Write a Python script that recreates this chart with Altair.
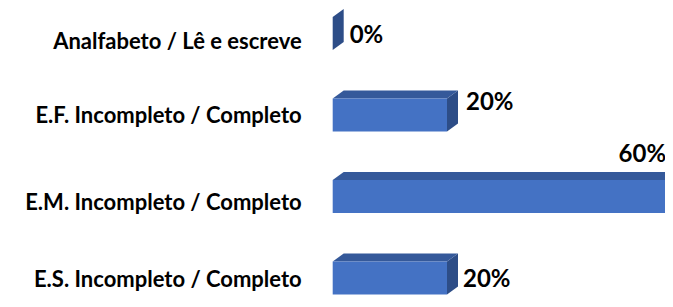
import altair as alt
import pandas as pd

# ---- data ----
categories = [
    "Analfabeto / Lê e escreve",
    "E.F. Incompleto / Completo",
    "E.M. Incompleto / Completo",
    "E.S. Incompleto / Completo",
]
values = [0, 20, 60, 20]
value_labels = ["0%", "20%", "60%", "20%"]

# ---- layout / style constants (pixels) ----
W, H = 657, 287
X0_PX = 324.7          # pixel of 0 %
PX_PER_PCT = 5.715     # pixels per percentage point
Y0_PX = 25.5           # pixel centre of first row
PX_PER_ROW = 81.5
FRONT_HALF_PX = 16.5
DEPTH_X_PX = 11
DEPTH_Y_PX = 8
VAL_DX_PX = [17, 19, -57, 16]
VAL_DY_PX = [2, -12, -42, 1.5]
CAT_DY_PX = [15.5, 7.5, 13.5, 9]
CAT_RIGHT_GAP_PX = 31

FRONT = "#4472C4"
TOP = "#35599A"
SIDE = "#2D4D87"

px_x = lambda p: p / PX_PER_PCT
px_y = lambda p: p / PX_PER_ROW

h = px_y(FRONT_HALF_PX)
dxu = px_x(DEPTH_X_PX)
dyu = px_y(DEPTH_Y_PX)

front_rows, top_rows, side_rows, val_rows, cat_rows = [], [], [], [], []
for i, (c, v, lab) in enumerate(zip(categories, values, value_labels)):
    front_rows.append(dict(cat=c, x=0, x2=v, y=i - h, y2=i + h))
    if v > dxu:
        for xx, yy, yy2 in [
            (0, i - h, i - h),
            (dxu, i - h, i - h - dyu),
            (v, i - h, i - h - dyu),
            (v + dxu, i - h - dyu, i - h - dyu),
        ]:
            top_rows.append(dict(cat=c, x=xx, y=yy, y2=yy2))
    for xx, yy, yy2 in [
        (v, i + h, i - h),
        (v + dxu, i + h - dyu, i - h - dyu),
    ]:
        side_rows.append(dict(cat=c, x=xx, y=yy, y2=yy2))
    val_rows.append(dict(cat=c, x=v + px_x(VAL_DX_PX[i]), y=i + px_y(VAL_DY_PX[i]), t=lab))
    cat_rows.append(dict(cat=c, x=px_x(-CAT_RIGHT_GAP_PX), y=i + px_y(CAT_DY_PX[i]), t=c))

xs = alt.Scale(domain=[-X0_PX / PX_PER_PCT, (W - X0_PX) / PX_PER_PCT], nice=False, zero=False)
ys = alt.Scale(domain=[-Y0_PX / PX_PER_ROW, (H - Y0_PX) / PX_PER_ROW], nice=False, zero=False, reverse=True)


def X():
    return alt.X("x:Q", scale=xs, axis=None)


def Y():
    return alt.Y("y:Q", scale=ys, axis=None)


front = alt.Chart(pd.DataFrame(front_rows)).mark_rect(color=FRONT).encode(
    x=X(), x2="x2:Q", y=Y(), y2="y2:Q"
)
top = alt.Chart(pd.DataFrame(top_rows)).mark_area(color=TOP).encode(
    x=X(), y=Y(), y2="y2:Q", detail="cat:N"
)
side = alt.Chart(pd.DataFrame(side_rows)).mark_area(color=SIDE).encode(
    x=X(), y=Y(), y2="y2:Q", detail="cat:N"
)
vals = alt.Chart(pd.DataFrame(val_rows)).mark_text(
    font="Lato", fontWeight="bold", fontSize=24, align="left", baseline="middle", color="#000000"
).encode(x=X(), y=Y(), text="t:N")
cats = alt.Chart(pd.DataFrame(cat_rows)).mark_text(
    font="Lato", fontWeight="bold", fontSize=22, align="right", baseline="alphabetic", color="#000000"
).encode(x=X(), y=Y(), text="t:N")

chart = alt.layer(side, top, front, vals, cats).properties(
    width=W, height=H,
    autosize=alt.AutoSizeParams(type="none"),
    padding=0,
).configure_view(strokeWidth=0)

chart.save("out.html", embed_options={"renderer": "svg", "actions": False})
